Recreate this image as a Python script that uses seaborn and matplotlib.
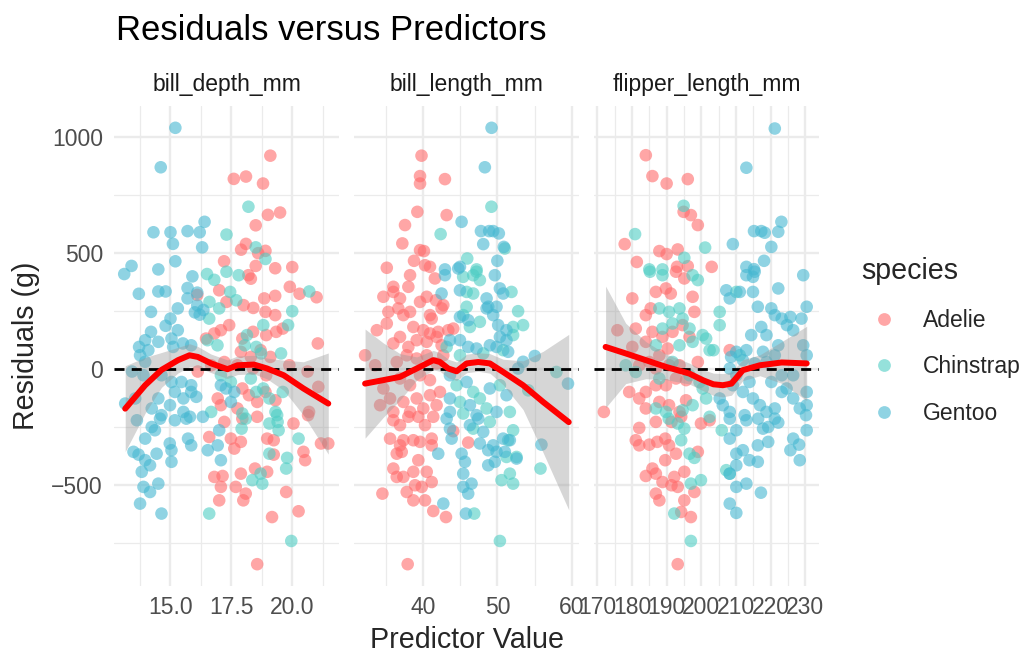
import numpy as np
import pandas as pd
import seaborn as sns
import matplotlib.pyplot as plt
from matplotlib.lines import Line2D

# residuals: [predictor value, residual (g)]
depth_adelie = [[19.1, 920], [17.6, 820], [18.1, 830], [18.8, 800], [19.0, 665], [19.5, 675], [18.5, 620],
                [18.1, 540], [17.9, 515], [18.6, 500], [18.9, 510], [17.2, 465], [18.5, 445], [19.3, 435],
                [20.0, 440], [18.2, 405], [18.3, 390], [19.9, 355], [20.3, 325], [21.0, 310], [16.1, 320],
                [17.0, 340], [17.3, 290], [18.0, 276], [18.4, 264], [18.9, 247], [19.3, 233], [18.85, 305],
                [19.3, 316], [16.46, 132], [16.8, 154], [17.07, 168], [17.41, 190], [17.95, 132], [18.39, 161],
                [18.93, 147], [19.34, 161], [19.61, 175], [21.05, 111], [17.89, 75], [18.3, 53], [18.7, 82],
                [19.1, 53], [16.12, -10], [16.67, 17], [17.21, 31], [17.75, 17], [18.39, 3], [18.93, -26],
                [19.88, 17], [20.63, -10], [17.95, -83], [18.22, -112], [18.56, -141], [18.9, -98],
                [19.31, -134], [21.07, -76], [20.69, -184], [16.94, -126], [17.07, -155], [17.75, -169],
                [16.59, -292], [16.8, -464], [17.14, -460], [17.07, -507], [17.0, -565], [17.48, -299],
                [17.62, -342], [17.89, -313], [17.89, -450], [17.68, -507], [18.09, -536], [17.99, -565],
                [18.97, -299], [19.24, -306], [19.24, -368], [18.97, -442], [18.47, -428], [20.05, -234],
                [19.75, -529], [20.53, -392], [20.46, -356], [20.26, -612], [19.17, -637], [21.18, -320],
                [21.48, -320], [18.56, -840], [17.21, -227], [17.95, -213], [18.56, -205], [20.65, -198]]
depth_chinstrap = [[18.2, 700], [17.3, 580], [18.5, 525], [18.9, 475], [16.5, 410], [16.8, 385], [17.3, 420],
                   [17.8, 405], [20.7, 335], [16.6, 290], [17.0, 262], [17.45, 333], [17.7, 297], [20.0, 250],
                   [16.59, 218], [16.52, 125], [16.93, 103], [18.14, 147], [18.81, 190], [19.83, 190],
                   [19.54, 68], [18.05, 103], [18.52, 96], [18.72, 68], [17.07, -26], [17.48, -55], [18.3, -40],
                   [18.81, -83], [18.52, -98], [19.06, -126], [19.61, -98], [16.67, -184], [17.95, -191],
                   [19.31, -184], [19.06, -234], [19.4, -227], [19.44, -263], [20.26, -299], [19.06, -364],
                   [19.79, -382], [19.75, -428], [18.7, -450], [18.36, -478], [18.77, -493], [16.59, -622],
                   [19.96, -740], [17.92, -256], [18.09, -213], [19.38, -198]]
depth_gentoo = [[15.2, 1040], [14.6, 870], [16.4, 635], [14.3, 590], [15.0, 590], [15.7, 595], [16.2, 590],
                [15.1, 540], [16.3, 525], [15.2, 465], [13.4, 445], [14.5, 430], [13.1, 410], [15.9, 400],
                [13.7, 325], [14.5, 335], [14.8, 335], [15.7, 350], [16.1, 330], [15.7, 305], [16.1, 275],
                [16.0, 245], [16.2, 235], [16.35, 255], [14.2, 247], [15.3, 262], [15.0, 218], [14.8, 187],
                [15.3, 168], [14.2, 161], [13.96, 125], [13.71, 96], [14.09, 82], [13.75, 60], [13.96, 32],
                [14.5, 118], [15.04, 132], [15.11, 96], [15.51, 111], [15.85, 103], [13.42, -10], [13.89, -26],
                [14.63, -26], [15.04, -55], [15.45, -55], [15.85, -69], [15.18, -98], [17.07, -69],
                [17.28, -83], [17.62, -98], [17.48, -141], [13.14, -148], [13.55, -126], [14.23, -169],
                [14.5, -126], [14.98, -155], [15.53, -126], [15.85, -98], [16.06, -119], [14.63, -198],
                [15.53, -184], [15.8, -205], [13.62, -220], [14.23, -249], [14.57, -213], [15.18, -220],
                [15.65, -213], [14.36, -263], [13.96, -299], [14.97, -320], [15.04, -349], [15.72, -299],
                [15.85, -328], [13.48, -356], [13.69, -368], [13.96, -392], [14.16, -414], [14.43, -364],
                [13.82, -442], [15.04, -399], [13.89, -507], [14.16, -529], [14.5, -493], [13.75, -579],
                [14.63, -622], [16.53, -349], [16.94, -328], [17.07, -392], [17.0, -263], [16.33, -205]]

length_adelie = [[39.8, 920], [39.6, 832], [39.6, 800], [42.95, 819], [39.24, 678], [43.18, 664], [37.58, 621],
                 [37.22, 542], [39.6, 513], [40.13, 509], [38.79, 467], [35.13, 437], [40.27, 448], [40.94, 441],
                 [38.26, 405], [41.6, 391], [36.01, 355], [36.01, 333], [34.67, 312], [38.03, 355], [36.91, 305],
                 [40.5, 312], [39.6, 290], [41.74, 297], [33.79, 168], [35.13, 197], [35.34, 247], [36.68, 262],
                 [37.36, 233], [38.26, 247], [40.94, 233], [41.17, 218], [42.5, 262], [42.73, 276], [38.7, 182],
                 [40.04, 168], [40.94, 154], [42.05, 161], [43.4, 168], [44.07, 175], [36.91, 139], [36.01, 111],
                 [38.03, 96], [39.15, 125], [40.5, 118], [41.83, 139], [42.5, 103], [32.21, 60], [33.56, 17],
                 [36.47, 31], [37.81, 60], [39.15, 46], [40.5, 60], [41.83, 25], [42.73, 60], [34.67, -83],
                 [36.91, -40], [38.26, -69], [39.6, -26], [40.94, -47], [42.28, -98], [35.57, -126],
                 [37.36, -141], [39.15, -126], [40.94, -112], [36.01, -184], [38.26, -184], [40.04, -169],
                 [41.83, -155], [34.23, -155], [36.01, -220], [36.91, -241], [38.03, -205], [40.27, -241],
                 [35.57, -299], [36.91, -328], [37.36, -306], [38.7, -306], [39.6, -313], [41.17, -299],
                 [41.17, -328], [36.47, -364], [37.14, -356], [39.37, -392], [36.01, -428], [36.47, -464],
                 [37.36, -464], [38.7, -442], [40.5, -442], [41.17, -486], [38.93, -500], [39.83, -507],
                 [37.81, -529], [38.7, -565], [40.27, -565], [41.38, -611], [43.09, -637], [34.54, -536],
                 [37.94, -840], [44.07, -267], [46.08, -316], [41.38, -205], [39.37, -205]]
length_chinstrap = [[49.2, 700], [42.37, 582], [51.0, 520], [45.95, 477], [47.2, 430], [45.4, 398], [46.75, 405],
                    [47.2, 420], [47.65, 384], [51.9, 333], [45.87, 333], [46.75, 326], [52.79, 250],
                    [53.46, 190], [52.12, 182], [45.87, 269], [45.41, 233], [46.31, 182], [47.65, 204],
                    [52.12, 147], [50.78, 82], [48.1, 68], [44.97, 60], [43.18, 96], [57.94, -12], [54.16, -91],
                    [44.52, -69], [46.75, -98], [44.97, -141], [47.65, -126], [50.34, -69], [48.55, -169],
                    [51.68, -184], [45.41, -191], [48.99, -227], [46.75, -256], [52.12, -263], [51.45, -306],
                    [51.23, -378], [51.68, -450], [50.56, -478], [52.12, -493], [55.8, -428], [46.89, -622],
                    [50.34, -740], [52.58, -378]]
length_gentoo = [[49.22, 1040], [48.32, 870], [45.19, 635], [47.79, 595], [48.9, 595], [49.44, 595], [50.2, 585],
                 [48.1, 539], [50.87, 527], [50.0, 467], [44.97, 441], [42.95, 430], [42.95, 405], [44.74, 434],
                 [49.66, 405], [50.34, 348], [42.5, 326], [44.97, 340], [48.55, 305], [48.77, 269], [49.89, 269],
                 [50.78, 326], [44.97, 225], [46.08, 211], [48.55, 262], [49.44, 233], [50.11, 190],
                 [51.23, 168], [50.34, 139], [48.99, 103], [49.89, 96], [51.23, 125], [51.45, 75], [47.2, 89],
                 [46.08, 96], [44.97, 125], [43.62, 125], [55.03, 57], [53.46, 32], [52.79, 3], [59.5, -62],
                 [43.62, -26], [45.87, -55], [43.62, -126], [46.31, -155], [48.99, -83], [51.23, -112],
                 [49.89, -184], [43.62, -184], [47.2, -198], [43.18, -213], [43.62, -256], [43.85, -299],
                 [42.05, -364], [45.19, -364], [45.64, -399], [45.41, -450], [45.41, -507], [46.53, -493],
                 [46.08, -536], [42.73, -579], [45.77, -622], [46.31, -241], [47.43, -213], [48.1, -270],
                 [47.65, -320], [48.77, -349], [49.89, -356], [49.66, -399], [48.77, -414], [51.01, -356],
                 [50.78, -299], [51.68, -306], [52.58, -385], [55.93, -325], [49.44, -328]]

flipper_adelie = [[184.0, 922], [185.9, 832], [190.0, 800], [196.1, 819], [194.9, 678], [197.0, 664], [199.0, 621],
                  [177.9, 539], [187.9, 509], [190.0, 496], [193.2, 516], [181.4, 462], [193.0, 441],
                  [196.1, 444], [203.0, 441], [195.1, 391], [175.8, 168], [180.1, 305], [180.1, 96],
                  [181.1, 175], [184.0, 233], [185.4, 262], [186.9, 333], [189.8, 348], [191.2, 326],
                  [192.7, 420], [197.5, 312], [198.0, 247], [194.6, 190], [196.6, 139], [191.7, 161],
                  [188.8, 139], [185.9, 161], [184.0, 118], [190.3, 89], [187.9, 60], [185.0, 31], [182.1, 17],
                  [186.9, 3], [190.7, 17], [193.7, 17], [199.0, 31], [179.2, -98], [182.1, -126], [184.0, -98],
                  [186.9, -69], [189.8, -69], [192.7, -40], [195.6, -47], [187.9, -141], [190.7, -155],
                  [184.0, -169], [193.7, -184], [195.6, -134], [208.2, 82], [171.9, -184], [182.1, -253],
                  [186.9, -227], [181.1, -306], [182.1, -328], [185.0, -325], [187.3, -313], [189.6, -299],
                  [190.7, -328], [192.7, -364], [189.6, -392], [185.9, -428], [184.0, -460], [186.9, -450],
                  [192.2, -464], [195.1, -442], [188.8, -486], [191.4, -500], [193.2, -507], [198.0, -529],
                  [186.9, -536], [187.9, -565], [195.1, -565], [194.2, -615], [197.0, -637], [193.2, -840],
                  [199.0, -356], [199.9, -234], [202.4, -220], [194.2, -205], [191.4, -227]]
flipper_chinstrap = [[194.9, 704], [180.9, 582], [201.1, 524], [195.1, 480], [185.0, 430], [188.8, 430],
                     [185.2, 420], [188.8, 405], [197.5, 405], [199.0, 384], [210.1, 333], [205.3, 247],
                     [205.3, 190], [201.4, 132], [203.5, 82], [211.1, 60], [187.9, 262], [190.7, 247],
                     [193.7, 262], [194.6, 218], [191.7, 197], [188.8, 175], [196.6, 175], [197.5, 118],
                     [193.7, 103], [186.9, 103], [200.4, 147], [202.4, 82], [178.2, 17], [181.1, -12],
                     [187.9, -40], [191.7, 31], [196.6, -26], [199.5, -55], [200.4, -83], [201.4, -126],
                     [197.5, -155], [194.6, -177], [189.8, -184], [186.9, -169], [190.6, -213], [194.2, -306],
                     [195.1, -256], [196.6, -364], [198.0, -382], [199.9, -478], [197.0, -493], [192.2, -622],
                     [197.0, -740], [205.9, -263], [207.2, -435], [208.2, -450], [202.4, -205], [193.2, -234]]
flipper_gentoo = [[221.2, 1037], [213.0, 868], [209.1, 539], [215.2, 595], [217.3, 595], [218.3, 588],
                  [222.2, 592], [223.1, 635], [220.2, 527], [218.1, 467], [213.0, 441], [215.2, 431],
                  [213.0, 405], [215.4, 420], [214.9, 398], [229.4, 405], [222.2, 348], [207.2, 340],
                  [208.2, 305], [211.1, 333], [214.9, 333], [216.3, 269], [220.2, 262], [221.2, 233],
                  [223.2, 218], [225.7, 225], [224.7, 190], [226.5, 168], [230.4, 269], [228.9, 218],
                  [217.3, 182], [214.4, 147], [218.8, 147], [222.2, 103], [217.8, 75], [213.0, 82], [210.1, 75],
                  [208.6, 53], [212.0, 39], [215.4, 25], [218.8, 31], [221.2, 60], [229.4, 103], [230.4, 60],
                  [208.2, 3], [210.1, -26], [209.1, -69], [212.0, -98], [213.9, -55], [214.9, -126],
                  [216.9, -155], [218.8, -184], [221.2, -169], [223.2, -98], [224.6, -83], [226.5, -126],
                  [228.4, -169], [230.4, -155], [230.4, -98], [212.5, -198], [208.2, -184], [220.2, -55],
                  [223.2, -26], [226.5, -26], [205.3, -126], [206.2, -155], [208.2, -213], [210.1, -263],
                  [208.2, -299], [210.1, -364], [212.0, -349], [210.1, -414], [213.9, -392], [216.3, -399],
                  [216.3, -328], [219.3, -313], [217.8, -256], [219.3, -249], [221.2, -213], [222.2, -230],
                  [226.5, -299], [225.7, -349], [228.2, -325], [228.4, -392], [230.4, -263], [230.2, -198],
                  [216.4, -213], [213.0, -220], [210.1, -507], [213.0, -493], [217.2, -532], [208.2, -579],
                  [210.1, -619], [208.2, -450]]

# loess smooth: x, fitted value, half width of the band
depth_smooth_x = [13.14, 13.96, 14.63, 15.31, 15.78, 16.12, 16.67, 17.34, 17.75, 18.43, 18.97, 19.65, 20.46, 21.48]
depth_smooth_y = [-170, -69, -3, 39, 60, 53, 25, 0, 17, 20, 3, -26, -83, -148]
depth_smooth_se = [185, 120, 75, 55, 50, 45, 40, 40, 40, 40, 45, 65, 115, 218]
length_smooth_x = [32.21, 34.67, 36.91, 39.15, 41.38, 42.28, 43.4, 44.52, 45.87, 47.43, 48.99, 50.78, 53.46, 56.15, 59.6]
length_smooth_y = [-62, -47, -33, 3, 39, 31, 3, -9, 25, 31, 25, -12, -69, -141, -228]
length_smooth_se = [235, 160, 100, 50, 42, 40, 40, 40, 40, 40, 42, 55, 105, 218, 378]
flipper_smooth_x = [172.4, 178.2, 184.0, 189.8, 196.6, 200.4, 203.5, 206.2, 208.7, 212.0, 216.9, 223.2, 230.4]
flipper_smooth_y = [96, 68, 39, 10, -19, -47, -65, -69, -62, -4, 17, 29, 25]
flipper_smooth_se = [262, 130, 80, 55, 45, 45, 48, 50, 50, 45, 45, 90, 160]

species = ['Adelie', 'Chinstrap', 'Gentoo']
colors = ['#FF6B6B', '#4ECDC4', '#45B7D1']
panels = ['bill_depth_mm', 'bill_length_mm', 'flipper_length_mm']


def make_df(ade, chi, gen):
    rows = []
    for sp, pts in zip(species, [ade, chi, gen]):
        for x, r in pts:
            rows.append((x, r, sp))
    return pd.DataFrame(rows, columns=['value', 'resid', 'species'])


panel_data = [
    (make_df(depth_adelie, depth_chinstrap, depth_gentoo), depth_smooth_x, depth_smooth_y, depth_smooth_se,
     (12.68, 21.92), [15.0, 17.5, 20.0], ['15.0', '17.5', '20.0'], [13.75, 16.25, 18.75, 21.25]),
    (make_df(length_adelie, length_chinstrap, length_gentoo), length_smooth_x, length_smooth_y, length_smooth_se,
     (30.72, 60.98), [40, 50, 60], ['40', '50', '60'], [35, 45, 55]),
    (make_df(flipper_adelie, flipper_chinstrap, flipper_gentoo), flipper_smooth_x, flipper_smooth_y, flipper_smooth_se,
     (169.05, 233.95), list(range(170, 231, 10)), [str(v) for v in range(170, 231, 10)], list(range(175, 230, 10))),
]

sns.set_theme(style='white')
plt.rcParams['font.family'] = ['Liberation Sans', 'DejaVu Sans']

W, H = 1029, 654
fig = plt.figure(figsize=(W / 100, H / 100), dpi=100)
pal = dict(zip(species, colors))
grid_c = '#EBEBEB'

lefts = [114, 354, 594]
pw, top, bot = 225, 106, 586
for i, (df, sx, sy, se, xlim, xt, xtl, xminor) in enumerate(panel_data):
    ax = fig.add_axes([lefts[i] / W, (H - bot) / H, pw / W, (bot - top) / H])
    ax.set_facecolor('white')
    for s in ax.spines.values():
        s.set_visible(False)
    sns.scatterplot(data=df, x='value', y='resid', hue='species', palette=pal, alpha=0.6,
                    s=82, linewidth=0, legend=False, ax=ax, zorder=3)
    lo = np.array(sy) - np.array(se)
    hi = np.array(sy) + np.array(se)
    ax.fill_between(sx, lo, hi, color='#999999', alpha=0.4, linewidth=0, zorder=4)
    ax.axhline(0, color='black', lw=2.0, ls=(0, (3.6, 2.6)), zorder=5)
    sns.lineplot(x=sx, y=sy, color='red', lw=4.3, ax=ax, zorder=6)
    ax.set_xlim(*xlim)
    ax.set_ylim(-934, 1134)
    ax.set_xticks(xt)
    ax.set_xticklabels(xtl)
    ax.set_xticks(xminor, minor=True)
    ax.set_yticks([-500, 0, 500, 1000])
    ax.set_yticks([-750, -250, 250, 750], minor=True)
    ax.grid(which='major', color=grid_c, lw=1.7, zorder=0)
    ax.grid(which='minor', color=grid_c, lw=0.9, zorder=0)
    ax.set_axisbelow(True)
    ax.tick_params(which='both', length=0, labelsize=16.5, labelcolor='#4D4D4D', pad=7.5)
    ax.tick_params(axis='y', pad=8)
    if i == 0:
        ax.set_yticklabels(['\u2212500', '0', '500', '1000'])
    else:
        ax.set_yticklabels([])
    ax.set_xlabel('')
    ax.set_ylabel('')
    ax.text(0.5, 1 + (top - 91) / (bot - top), panels[i], transform=ax.transAxes,
            ha='center', va='baseline', fontsize=16.5, color='#1A1A1A')

fig.text(116 / W, 1 - 40 / H, 'Residuals versus Predictors', fontsize=24.9, color='black', va='baseline')
fig.text(466.5 / W, 1 - 648 / H, 'Predictor Value', fontsize=20.6, ha='center', va='baseline')
fig.text(26 / W, 1 - 346 / H, 'Residuals (g)', fontsize=20.6, rotation=90, ha='center', va='center')

handles = [Line2D([], [], marker='o', ls='none', markersize=9.2, markerfacecolor=c, markeredgewidth=0,
                  alpha=0.6) for c in colors]
fig.legend(handles, species, title='species', loc='upper left', bbox_to_anchor=(861 / W, 1 - 257 / H),
           frameon=False, fontsize=16.5, title_fontsize=20.6, handlelength=2.0, handletextpad=0.7,
           labelspacing=1.03, borderpad=0, borderaxespad=0, alignment='left')

plt.savefig('out.png', dpi=100)
plt.close()
